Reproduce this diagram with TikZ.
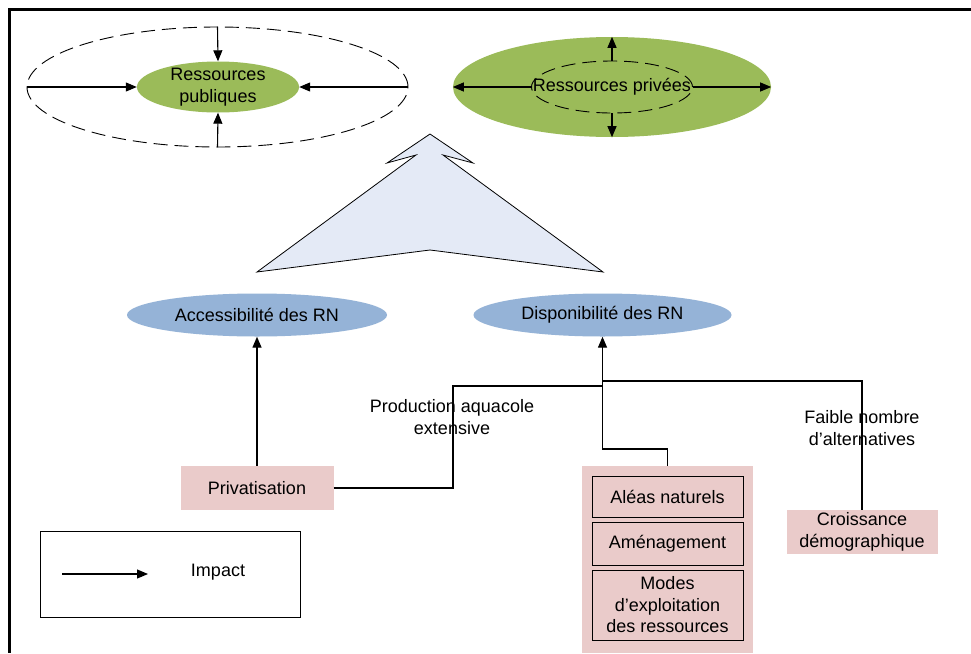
\documentclass[tikz,border=0pt]{standalone}
\usepackage{fontspec}
\setmainfont{Liberation Sans}
\usetikzlibrary{shapes.geometric,arrows.meta}
\definecolor{grn}{HTML}{9BBB59}
\definecolor{blu}{HTML}{95B3D7}
\definecolor{pnk}{HTML}{EACBCA}
\definecolor{lblue}{HTML}{E4EAF6}
\begin{document}
\begin{tikzpicture}[x=1pt,y=-1pt,
 font=\fontsize{18}{21.5}\selectfont,
 arr/.style={-{Triangle[length=11pt,width=9pt]}, line width=1.1pt},
 conn/.style={line width=1.4pt},
 ell/.style={ellipse, inner sep=0pt, align=center},
 pbox/.style={rectangle, fill=pnk, inner sep=0pt, align=center},
 ibox/.style={rectangle, draw, line width=0.8pt, fill=pnk, inner sep=0pt, align=center, minimum width=151pt},
 lbl/.style={align=center, inner sep=0pt},
 dsh/.style={draw, dash pattern=on 14pt off 7pt, line width=0.9pt}
]
\useasboundingbox (0,0) rectangle (971,653);
\fill[white] (0,0) rectangle (971,653);

% frame
\draw[line width=3pt] (971,9) -- (9,9) -- (9,653);

% Ressources publiques
\node[ell, dsh, minimum width=381pt, minimum height=120pt] (pubout) at (217.5,87) {};
\node[ell, fill=grn, minimum width=162pt, minimum height=51pt] (pub) at (218,87) {};
\node[lbl] (pubtxt) at (218,87) {Ressources\\publiques};
\draw[arr] (pubout.north) -- (pub.north);
\draw[arr] (pubout.south) -- (pub.south);
\draw[arr] (pubout.west) -- (pub.west);
\draw[arr] (pubout.east) -- (pub.east);

% Ressources privees
\node[ell, fill=grn, minimum width=318pt, minimum height=100pt] (privout) at (612,87) {};
\node[ell, dsh, minimum width=161pt, minimum height=52pt] (privin) at (612,87) {};
\node[lbl] (privtxt) at (612,87) {Ressources privées};
\draw[arr] (privin.north) -- (privout.north);
\draw[arr] (privin.south) -- (privout.south);
\draw[arr] (privin.west) -- (privout.west);
\draw[arr] (privin.east) -- (privout.east);

% big arrow shape
\draw[fill=lblue, line width=0.8pt, line join=miter]
  (430,134) -- (473,163) -- (443,155) -- (603,272) -- (430,250)
  -- (257,272) -- (416,155) -- (387,163) -- cycle;

% RN ellipses
\node[ell, fill=blu, minimum width=260pt, minimum height=43pt] (acc) at (257,315) {Accessibilité des RN};
\node[ell, fill=blu, minimum width=258pt, minimum height=43pt] (disp) at (602.5,315) {Disponibilité des RN};

% Privatisation
\node[pbox, minimum width=153pt, minimum height=44pt] (priv) at (257,488) {Privatisation};
\draw[arr, conn] (priv.north) -- (acc.south);

% group
\node[pbox, minimum width=171pt, minimum height=187pt] (grp) at (667.5,559.5) {};
\node[ibox, minimum height=41pt] (aleas) at (667.5,496.5) {Aléas naturels};
\node[ibox, minimum height=43pt] (amen) at (667.5,543.5) {Aménagement};
\node[ibox, minimum height=70pt] (modes) at (667.5,605) {Modes\\d’exploitation\\des ressources};

% Croissance
\node[pbox, minimum width=151pt, minimum height=44pt] (crois) at (862,532) {Croissance\\démographique};

% connectors
\coordinate (kP) at (453,386);
\coordinate (jA) at (602.5,386);
\coordinate (jB) at (602.5,381);
\coordinate (jC) at (602.5,449);
\draw[conn] (priv.east) -| (kP) -- (jA);
\draw[conn] (crois.north) |- (jB);
\draw[arr, conn] (grp.north) |- (jC) -- (disp.south);

% labels
\node[lbl] (prodlbl) at (452,417) {Production aquacole\\extensive};
\node[lbl] (faible) at (862,428) {Faible nombre\\d’alternatives};

% legend
\node[draw, line width=0.8pt, minimum width=260pt, minimum height=86pt, inner sep=0pt] (leg) at (170,574) {};
\coordinate (la) at (62,574);
\coordinate (lb) at (148,574);
\draw[arr] (la) -- (lb);
\node[lbl] (imp) at (218,572) {Impact};
\end{tikzpicture}
\end{document}
